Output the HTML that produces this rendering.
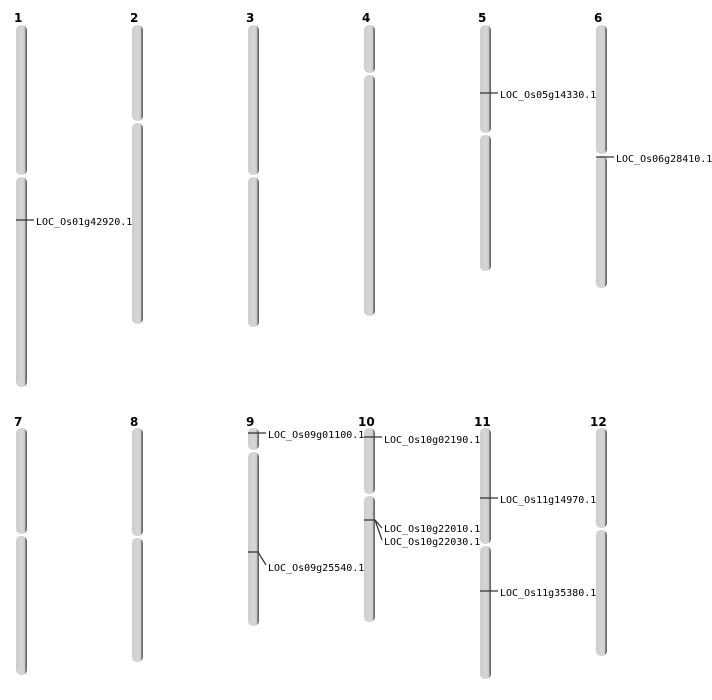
<!DOCTYPE html>
<html><head><meta charset="utf-8"><style>
html,body{margin:0;padding:0;background:#fff;}
svg{display:block;}
.n{font-family:"DejaVu Sans","Liberation Sans",sans-serif;font-weight:bold;font-size:12px;fill:#000;}
.l{font-family:"DejaVu Sans Mono","Liberation Mono",monospace;font-size:10px;fill:#000;}
.m{stroke:#333;stroke-width:1.2;fill:none;}
</style></head><body>
<svg width="712" height="700" viewBox="0 0 712 700" xmlns="http://www.w3.org/2000/svg">
<defs>
<linearGradient id="g" x1="0" x2="1" y1="0" y2="0">
<stop offset="0" stop-color="#cdcdcd"/><stop offset="0.5" stop-color="#d6d6d6"/><stop offset="0.78" stop-color="#cfcfcf"/><stop offset="0.86" stop-color="#8a8a8a"/><stop offset="1" stop-color="#555"/>
</linearGradient>
</defs>
<g fill="url(#g)">
<rect x="16" y="25" width="11" height="150" rx="5"/><rect x="16" y="177" width="11" height="210" rx="5"/>
<rect x="132" y="25" width="11" height="96" rx="5"/><rect x="132" y="123" width="11" height="201" rx="5"/>
<rect x="248" y="25" width="11" height="150" rx="5"/><rect x="248" y="177" width="11" height="150" rx="5"/>
<rect x="364" y="25" width="11" height="48" rx="5"/><rect x="364" y="75" width="11" height="241" rx="5"/>
<rect x="480" y="25" width="11" height="108" rx="5"/><rect x="480" y="135" width="11" height="136" rx="5"/>
<rect x="596" y="25" width="11" height="129" rx="5"/><rect x="596" y="156" width="11" height="132" rx="5"/>
<rect x="16" y="428" width="11" height="106" rx="5"/><rect x="16" y="536" width="11" height="139" rx="5"/>
<rect x="132" y="428" width="11" height="108" rx="5"/><rect x="132" y="538" width="11" height="124" rx="5"/>
<rect x="248" y="428" width="11" height="22" rx="5"/><rect x="248" y="452" width="11" height="174" rx="5"/>
<rect x="364" y="428" width="11" height="66" rx="5"/><rect x="364" y="496" width="11" height="126" rx="5"/>
<rect x="480" y="428" width="11" height="116" rx="5"/><rect x="480" y="546" width="11" height="133" rx="5"/>
<rect x="596" y="428" width="11" height="100" rx="5"/><rect x="596" y="530" width="11" height="126" rx="5"/>
</g>
<g>
<text class="n" x="14" y="22">1</text><text class="n" x="130" y="22">2</text><text class="n" x="246" y="22">3</text>
<text class="n" x="362" y="22">4</text><text class="n" x="478" y="22">5</text><text class="n" x="594" y="22">6</text>
<text class="n" x="14" y="426">7</text><text class="n" x="130" y="426">8</text><text class="n" x="246" y="426">9</text>
<text class="n" x="358" y="426">10</text><text class="n" x="474" y="426">11</text><text class="n" x="590" y="426">12</text>
</g>
<g>
<path class="m" d="M16 220H34"/><text class="l" x="36" y="225">LOC_Os01g42920.1</text>
<path class="m" d="M480 93H498"/><text class="l" x="500" y="98">LOC_Os05g14330.1</text>
<path class="m" d="M596 157H614"/><text class="l" x="616" y="162">LOC_Os06g28410.1</text>
<path class="m" d="M248 433H266"/><text class="l" x="268" y="438">LOC_Os09g01100.1</text>
<path class="m" d="M248 552H258L266 565"/><text class="l" x="268" y="571">LOC_Os09g25540.1</text>
<path class="m" d="M364 437H382"/><text class="l" x="384" y="443">LOC_Os10g02190.1</text>
<path class="m" d="M364 520H375L382 528M375 520L382 540"/><text class="l" x="384" y="532">LOC_Os10g22010.1</text><text class="l" x="384" y="545">LOC_Os10g22030.1</text>
<path class="m" d="M480 498H498"/><text class="l" x="500" y="503">LOC_Os11g14970.1</text>
<path class="m" d="M480 591H498"/><text class="l" x="500" y="596">LOC_Os11g35380.1</text>
</g>
</svg>
</body></html>
